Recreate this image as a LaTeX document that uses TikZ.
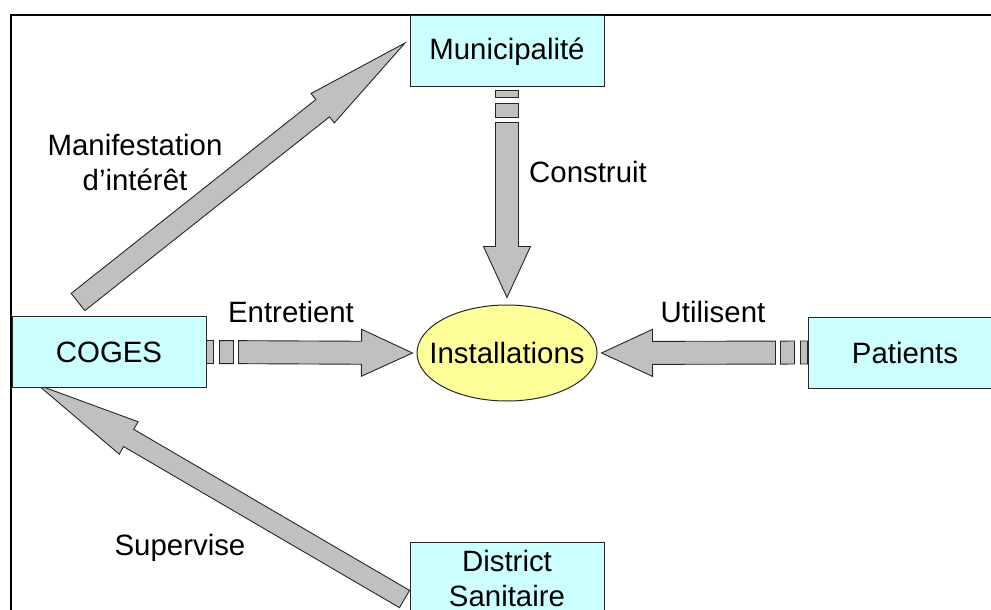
\documentclass[tikz,border=0pt]{standalone}
\usepackage{fontspec}
\setmainfont{Liberation Sans}
\usetikzlibrary{calc,shapes.geometric}
\definecolor{boxcyan}{HTML}{CCFFFF}
\definecolor{ellyellow}{HTML}{FFFF99}
\definecolor{arrgray}{HTML}{C0C0C0}
\tikzset{
  every node/.style={font=\fontsize{29.4}{35}\selectfont, inner sep=0pt},
  box/.style={draw=black!85, line width=1pt, fill=boxcyan, minimum width=194pt, minimum height=71pt, align=center},
  ellbox/.style={draw=black!85, line width=1pt, fill=ellyellow, ellipse, minimum width=180pt, minimum height=96pt},
  lbl/.style={align=center},
  arrowfill/.style={draw=black!85, line width=0.9pt, fill=arrgray, line join=miter},
  frameline/.style={draw=black, line width=2pt},
}
% block arrow: #1 prefix, #2 tail centre, #3 tip, #4 shaft half width, #5 head half width, #6 head length
\newcommand{\blockarr}[6]{%
  \coordinate (#1h) at ($(#3)!#6!(#2)$);
  \draw[arrowfill] ($(#2)!#4!90:(#3)$) -- ($(#1h)!#4!90:(#3)$) -- ($(#1h)!#5!90:(#3)$) -- (#3)
    -- ($(#1h)!#5!-90:(#3)$) -- ($(#1h)!#4!-90:(#3)$) -- ($(#2)!#4!-90:(#3)$) -- cycle;
}
\newcommand{\rectseg}[3]{%
  \draw[arrowfill] ($(#1)!#3!90:(#2)$) -- ($(#2)!#3!-90:(#1)$) -- ($(#2)!#3!90:(#1)$) -- ($(#1)!#3!-90:(#2)$) -- cycle;
}
% striped arrow: #1 prefix, #2 tail, #3 tip
\newcommand{\stripearr}[3]{%
  \coordinate (#1sa) at ($(#2)!7pt!(#3)$);
  \coordinate (#1sb) at ($(#2)!13pt!(#3)$);
  \coordinate (#1sc) at ($(#2)!27pt!(#3)$);
  \coordinate (#1b) at ($(#2)!32pt!(#3)$);
  \rectseg{#2}{#1sa}{11.5pt}
  \rectseg{#1sb}{#1sc}{11.5pt}
  \blockarr{#1}{#1b}{#3}{11.5pt}{23.5pt}{51pt}
}
\begin{document}
\begin{tikzpicture}[x=1pt,y=-1pt]
\useasboundingbox (0,0) rectangle (991,610);
\clip (0,0) rectangle (991,610);
% frame
\draw[frameline] (1100,15) -- (11,15) -- (11,700);

% node positions (boxes drawn later on top of the arrows)
\coordinate (muniC) at (507,51.5);
\coordinate (cogesC) at (109,352);
\coordinate (patC) at (905,352.5);
\coordinate (distC) at (507,578);
\coordinate (instC) at (507,353);

% invisible placeholders for anchors
\path (muniC) node[box, draw=none, fill=none] (muniP) {\phantom{Municipalité}};
\path (cogesC) node[box, draw=none, fill=none] (cogesP) {\phantom{COGES}};
\path (patC) node[box, draw=none, fill=none] (patP) {\phantom{Patients}};
\path (instC) node[ellbox, draw=none, fill=none] (instP) {};

% arrow end points
\coordinate (ctail) at (cogesP.east);
\coordinate (ctip) at ($(instP.west)+(-4,0)$);
\coordinate (ptail) at (patP.west);
\coordinate (ptip) at ($(instP.east)+(4,0)$);
\coordinate (mtail) at ($(muniP.south)+(0,3)$);
\coordinate (mtip) at ($(instP.north)+(0,-7)$);
\coordinate (matail) at (78,302);
\coordinate (matip) at (405,43);
\coordinate (sutail) at (404.5,599);
\coordinate (sutip) at (38,385);

% arrows
\stripearr{ce}{ctail}{ctip}
\stripearr{pu}{ptail}{ptip}
\stripearr{mc}{mtail}{mtip}
\blockarr{ma}{matail}{matip}{11pt}{18.75pt}{105pt}
\blockarr{su}{sutail}{sutip}{10pt}{18.75pt}{105pt}

% boxes
\node[box] (muni) at (muniC) {Municipalité};
\node[box] (coges) at (cogesC) {COGES};
\node[box] (pat) at (patC) {Patients};
\node[box] (dist) at (distC) {District\\Sanitaire};
\node[ellbox] (inst) at (instC) {\makebox[0pt]{Installations}};

% labels
\node[lbl] (lman) at (135,162.5) {Manifestation\\d’intérêt};
\node[lbl] (lcon) at (588,172) {Construit};
\node[lbl] (lent) at (291,312) {Entretient};
\node[lbl] (luti) at (713,312) {Utilisent};
\node[lbl] (lsup) at (180,548) {Supervise};
\end{tikzpicture}
\end{document}
